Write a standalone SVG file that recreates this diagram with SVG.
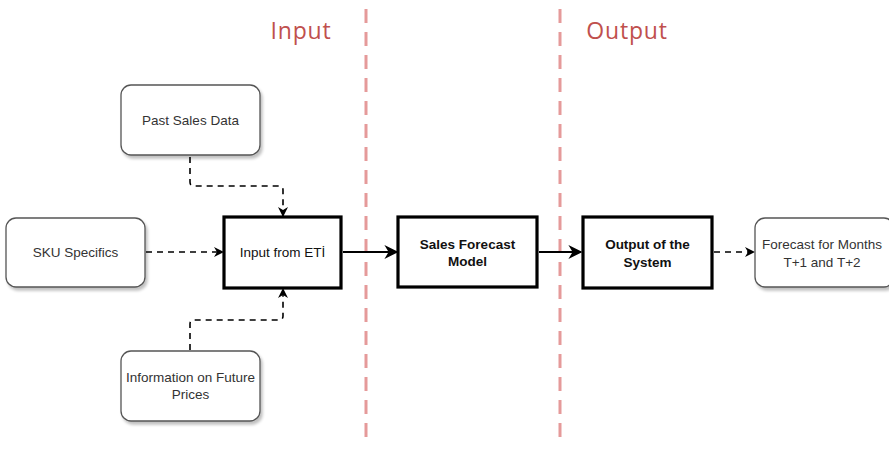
<svg xmlns="http://www.w3.org/2000/svg" width="889" height="453" viewBox="0 0 889 453">
  <style>
    .soft { fill: #ffffff; stroke: #555555; stroke-width: 1.3; filter: url(#shadow); }
    .hard { fill: #ffffff; stroke: #000000; stroke-width: 3.2; }
    .lbl { font-family: "Liberation Sans", Arial, sans-serif; font-size: 13.5px; fill: #333333; text-anchor: middle; }
    .bold { font-family: "Liberation Sans", Arial, sans-serif; font-size: 13.5px; font-weight: bold; fill: #111111; text-anchor: middle; }
    .title { font-family: "Open Sans", "Noto Sans", sans-serif; font-size: 23px; fill: #c0504d; letter-spacing: 0.8px; text-anchor: middle; }
    .lane { stroke: #e59a9a; stroke-width: 3; stroke-dasharray: 14 9; }
    .dash { fill: none; stroke: #000000; stroke-width: 1.6; stroke-dasharray: 6 5; }
    .solid { fill: none; stroke: #000000; stroke-width: 2.2; }
  </style>
  <defs>
    <filter id="shadow" x="-10%" y="-10%" width="130%" height="140%">
      <feGaussianBlur in="SourceAlpha" stdDeviation="1.5"/>
      <feOffset dx="2" dy="3" result="off"/>
      <feComponentTransfer><feFuncA type="linear" slope="0.25"/></feComponentTransfer>
      <feMerge><feMergeNode/><feMergeNode in="SourceGraphic"/></feMerge>
    </filter>
    <marker id="arrow" viewBox="0 0 10 10" refX="9" refY="5" markerWidth="10" markerHeight="10" markerUnits="userSpaceOnUse" orient="auto">
      <path d="M0,0 L10,5 L0,10 L3,5 z" fill="#000000"/>
    </marker>
    <marker id="arrowBig" viewBox="0 0 10 10" refX="9" refY="5" markerWidth="14" markerHeight="14" markerUnits="userSpaceOnUse" orient="auto">
      <path d="M0,0 L10,5 L0,10 L3,5 z" fill="#000000"/>
    </marker>
  </defs>

  <rect width="889" height="453" fill="#ffffff"/>

  <!-- swimlane dividers and headings -->
  <g id="lanes">
    <line class="lane" x1="366" y1="9" x2="366" y2="446"/>
    <line class="lane" x1="560" y1="9" x2="560" y2="446"/>
    <text class="title" x="301" y="39">Input</text>
    <text class="title" x="627" y="39">Output</text>
  </g>

  <!-- connectors -->
  <g id="connectors">
    <path class="dash" d="M190,157 V182 Q190,186 194,186 H279 Q283,186 283,190 V216" marker-end="url(#arrow)"/>
    <path class="dash" d="M146,252 H223" marker-end="url(#arrow)"/>
    <path class="dash" d="M190,350 V324 Q190,320 194,320 H279 Q283,320 283,316 V289" marker-end="url(#arrow)"/>
    <path class="solid" d="M343,252 H397" marker-end="url(#arrowBig)"/>
    <path class="solid" d="M539,252 H581" marker-end="url(#arrowBig)"/>
    <path class="dash" d="M714,252 H754" marker-end="url(#arrow)"/>
  </g>

  <g id="past-sales">
    <rect class="soft" x="121" y="85" width="139" height="70" rx="10"/>
    <text class="lbl" x="190.5" y="125">Past Sales Data</text>
  </g>

  <g id="sku">
    <rect class="soft" x="6" y="218" width="139" height="69" rx="10"/>
    <text class="lbl" x="75.5" y="257">SKU Specifics</text>
  </g>

  <g id="future-prices">
    <rect class="soft" x="121" y="351" width="139" height="70" rx="10"/>
    <text class="lbl" x="190.5" y="382">Information on Future</text>
    <text class="lbl" x="190.5" y="399">Prices</text>
  </g>

  <g id="input-eti">
    <rect class="hard" x="224" y="217" width="117" height="71"/>
    <text class="lbl" x="282.5" y="257" style="fill:#111111">Input from ETİ</text>
  </g>

  <g id="model">
    <rect class="hard" x="398" y="217" width="139" height="70"/>
    <text class="bold" x="467.5" y="249">Sales Forecast</text>
    <text class="bold" x="467.5" y="266">Model</text>
  </g>

  <g id="system-output">
    <rect class="hard" x="583" y="217" width="129" height="71"/>
    <text class="bold" x="647.5" y="249">Output of the</text>
    <text class="bold" x="647.5" y="267">System</text>
  </g>

  <g id="forecast">
    <rect class="soft" x="755" y="218" width="139" height="69" rx="10"/>
    <text class="lbl" x="822" y="249">Forecast for Months</text>
    <text class="lbl" x="822" y="267">T+1 and T+2</text>
  </g>
</svg>
